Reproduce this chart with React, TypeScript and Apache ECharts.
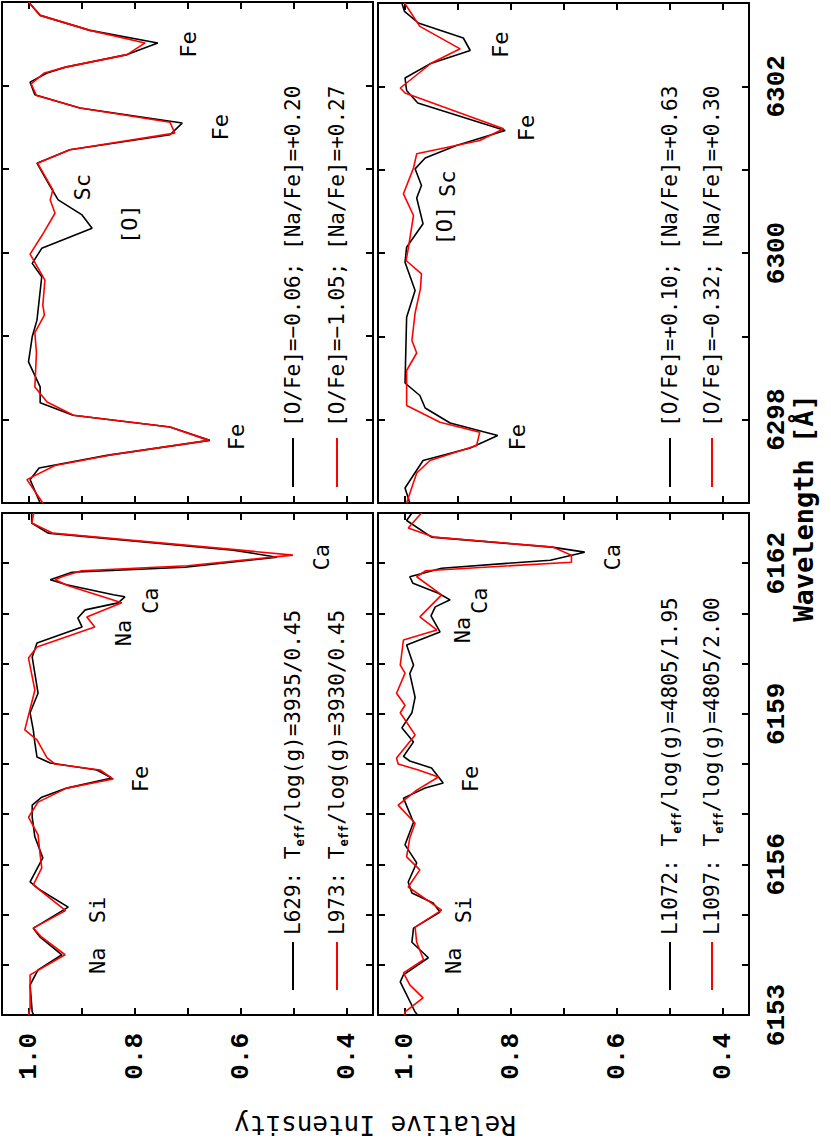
import React, { useEffect, useRef } from "react";
import * as echarts from "echarts";

// ---------------- data ----------------
// wavelength ranges (Å)
const topRange = [6297, 6303];
const botRange = [6153, 6163];
const intensityRange = [0.35, 1.05];

// [relative intensity, wavelength]
const tlBlack = [
  [1.0, 6303.0], [0.978, 6302.84], [0.884, 6302.66], [0.756, 6302.51], [0.814, 6302.37],
  [0.93, 6302.22], [0.965, 6302.15], [0.997, 6302.04], [0.988, 6301.89], [0.903, 6301.73],
  [0.71, 6301.55], [0.733, 6301.41], [0.922, 6301.23], [0.984, 6301.07], [0.96, 6300.8],
  [0.944, 6300.63], [0.899, 6300.45], [0.88, 6300.29], [0.975, 6300.05], [0.993, 6299.87],
  [0.975, 6299.71], [0.984, 6299.19], [0.993, 6298.99], [1.0, 6298.69], [0.978, 6298.39],
  [0.978, 6298.2], [0.916, 6298.05], [0.733, 6297.91], [0.658, 6297.75], [0.852, 6297.57],
  [0.98, 6297.42], [0.997, 6297.28], [0.978, 6297.0],
];
const tlRed = [
  [1.0, 6303.0], [0.978, 6302.84], [0.884, 6302.66], [0.78, 6302.51], [0.814, 6302.37],
  [0.93, 6302.22], [0.97, 6302.15], [0.995, 6302.02], [0.985, 6301.88], [0.903, 6301.73],
  [0.733, 6301.56], [0.724, 6301.43], [0.922, 6301.23], [0.983, 6301.07], [0.954, 6300.75],
  [0.959, 6300.63], [0.95, 6300.47], [0.975, 6300.2], [0.997, 6299.98], [0.969, 6299.67],
  [0.973, 6299.37], [0.97, 6299.25], [0.988, 6299.04], [0.985, 6298.8], [0.988, 6298.39],
  [0.965, 6298.21], [0.915, 6298.05], [0.733, 6297.91], [0.66, 6297.75], [0.84, 6297.58],
  [0.95, 6297.45], [1.003, 6297.28], [0.973, 6297.0],
];
const trBlack = [
  [1.005, 6303.0], [1.0, 6302.9], [0.974, 6302.76], [0.889, 6302.58], [0.876, 6302.43],
  [0.952, 6302.27], [0.999, 6302.1], [0.996, 6301.95], [0.975, 6301.8], [0.81, 6301.47],
  [0.902, 6301.29], [0.961, 6301.14], [0.98, 6301.01], [0.968, 6300.81], [0.977, 6300.66],
  [0.965, 6300.35], [0.996, 6300.07], [0.999, 6299.89], [0.98, 6299.55], [0.996, 6299.23],
  [0.999, 6298.44], [0.971, 6298.29], [0.961, 6298.14], [0.914, 6297.96], [0.824, 6297.81],
  [0.876, 6297.66], [0.965, 6297.51], [0.999, 6297.18], [0.99, 6297.0],
];
const trRed = [
  [1.0, 6303.0], [0.971, 6302.72], [0.895, 6302.45], [0.949, 6302.28], [1.008, 6301.98],
  [0.999, 6301.92], [0.813, 6301.49], [0.858, 6301.35], [0.977, 6301.19], [0.983, 6301.02],
  [1.002, 6300.71], [0.983, 6300.45], [0.993, 6300.05], [0.997, 6299.91], [0.968, 6299.75],
  [0.97, 6299.57], [0.98, 6299.28], [0.986, 6298.95], [0.977, 6298.8], [0.996, 6298.59],
  [0.996, 6298.17], [0.933, 6297.97], [0.858, 6297.85], [0.864, 6297.69], [0.952, 6297.51],
  [0.977, 6297.36], [0.996, 6297.0],
];
const blBlack = [
  [0.994, 6163.0], [0.994, 6162.8], [0.963, 6162.6], [0.614, 6162.26], [0.531, 6162.12],
  [0.705, 6161.92], [0.918, 6161.82], [0.959, 6161.67], [0.928, 6161.57], [0.84, 6161.37],
  [0.818, 6161.33], [0.831, 6161.21], [0.893, 6161.07], [0.907, 6160.91], [0.899, 6160.73],
  [0.984, 6160.41], [0.993, 6160.13], [0.982, 6159.41], [0.997, 6159.02], [0.991, 6158.68],
  [0.988, 6158.42], [0.984, 6158.14], [0.959, 6158.02], [0.871, 6157.88], [0.843, 6157.72],
  [0.928, 6157.52], [0.975, 6157.34], [0.993, 6157.18], [0.993, 6156.94], [0.988, 6156.55],
  [0.973, 6156.13], [0.997, 6155.65], [0.978, 6155.49], [0.925, 6155.15], [0.975, 6154.83],
  [0.991, 6154.73], [0.978, 6154.55], [0.937, 6154.2], [0.982, 6153.9], [0.997, 6153.6],
  [0.993, 6153.06], [0.99, 6153.0],
];
const blRed = [
  [0.99, 6163.0], [0.994, 6162.8], [0.955, 6162.6], [0.6, 6162.26], [0.501, 6162.16],
  [0.7, 6161.95], [0.9, 6161.85], [0.937, 6161.73], [0.95, 6161.67], [0.925, 6161.55],
  [0.824, 6161.21], [0.89, 6160.93], [0.875, 6160.73], [0.984, 6160.33], [1.0, 6160.11],
  [0.988, 6159.47], [1.007, 6158.68], [0.984, 6158.48], [0.965, 6158.12], [0.95, 6158.0],
  [0.865, 6157.88], [0.84, 6157.7], [0.928, 6157.52], [0.982, 6157.24], [1.0, 6156.94],
  [0.982, 6156.59], [0.978, 6156.19], [0.975, 6155.93], [0.991, 6155.59], [0.93, 6155.08],
  [0.991, 6154.73], [0.975, 6154.55], [0.931, 6154.2], [0.997, 6153.8], [0.997, 6153.14],
  [1.0, 6153.0],
];
const brBlack = [
  [0.986, 6163.0], [0.996, 6162.85], [0.949, 6162.52], [0.722, 6162.32], [0.66, 6162.22],
  [0.725, 6162.06], [0.93, 6161.9], [0.99, 6161.73], [0.984, 6161.6], [0.936, 6161.4],
  [0.914, 6161.27], [0.942, 6161.13], [0.95, 6160.95], [0.933, 6160.63], [0.996, 6160.37],
  [0.983, 6159.97], [0.99, 6159.8], [0.98, 6159.33], [0.986, 6159.02], [1.005, 6158.72],
  [0.983, 6158.44], [1.002, 6158.15], [0.99, 6158.06], [0.949, 6157.92], [0.927, 6157.62],
  [0.961, 6157.52], [1.002, 6157.32], [0.983, 6156.84], [0.999, 6156.39], [0.977, 6156.03],
  [0.993, 6155.65], [0.986, 6155.43], [0.946, 6155.23], [0.933, 6155.05], [0.983, 6154.73],
  [0.986, 6154.45], [0.955, 6154.14], [1.002, 6153.8], [1.008, 6153.66], [0.98, 6153.06],
  [0.975, 6153.0],
];
const brRed = [
  [0.968, 6163.0], [0.993, 6162.7], [0.945, 6162.52], [0.72, 6162.32], [0.685, 6162.16],
  [0.685, 6162.02], [0.96, 6161.85], [0.977, 6161.73], [0.93, 6161.37], [0.971, 6160.93],
  [0.939, 6160.67], [1.002, 6160.47], [1.008, 6159.97], [0.999, 6159.81], [1.015, 6159.41],
  [0.999, 6159.17], [1.008, 6159.02], [0.98, 6158.58], [1.015, 6158.12], [1.012, 6158.0],
  [0.974, 6157.88], [0.936, 6157.74], [0.977, 6157.48], [1.012, 6157.18], [0.98, 6156.82],
  [0.99, 6156.53], [0.996, 6156.15], [0.971, 6155.89], [0.993, 6155.55], [0.93, 6155.09],
  [0.98, 6154.75], [0.977, 6154.45], [0.964, 6154.1], [1.002, 6153.84], [0.99, 6153.6],
  [0.965, 6153.34], [0.999, 6153.06], [1.0, 6153.0],
];

// line identifications: [name, intensity, wavelength]
const tlLines = [
  ["Fe", 0.699, 6302.49], ["Fe", 0.637, 6301.5], ["Sc", 0.899, 6300.78],
  ["[O]", 0.81, 6300.34], ["Fe", 0.608, 6297.79],
];
const trLines = [
  ["Fe", 0.818, 6302.5], ["Fe", 0.769, 6301.5], ["Sc", 0.918, 6300.83],
  ["[O]", 0.924, 6300.33], ["Fe", 0.786, 6297.79],
];
const blLines = [
  ["Ca", 0.448, 6162.12], ["Ca", 0.769, 6161.25], ["Na", 0.82, 6160.61],
  ["Fe", 0.788, 6157.7], ["Si", 0.869, 6155.09], ["Na", 0.869, 6154.08],
];
const brLines = [
  ["Ca", 0.608, 6162.12], ["Ca", 0.859, 6161.25], ["Na", 0.89, 6160.67],
  ["Fe", 0.876, 6157.7], ["Si", 0.888, 6155.09], ["Na", 0.908, 6154.08],
];

// legend texts
const abundL = ["[O/Fe]=\u22120.06; [Na/Fe]=+0.20", "[O/Fe]=\u22121.05; [Na/Fe]=+0.27"];
const abundR = ["[O/Fe]=+0.10; [Na/Fe]=+0.63", "[O/Fe]=\u22120.32; [Na/Fe]=+0.30"];
const starsL = [["L629", "3935/0.45"], ["L973", "3930/0.45"]];
const starsR = [["L1072", "4805/1.95"], ["L1097", "4805/2.00"]];

const xTitle = "Relative Intensity";
const yTitle = "Wavelength [\u00c5]";

// ---------------- layout / style ----------------
const GRIDS = [
  { left: 2, top: 2, width: 371, height: 501 },
  { left: 378, top: 2, width: 371, height: 501 },
  { left: 2, top: 513, width: 371, height: 502 },
  { left: 378, top: 513, width: 371, height: 502 },
];
const TICK_FONT = "'Liberation Mono', monospace";
const TEXT_FONT = "'DejaVu Sans Mono', monospace";
const BLACK = "#000000";
const RED = "#ff0000";

function fmtIntensity(v: number) {
  const k = Math.round(v * 10);
  if (Math.abs(v * 10 - k) > 1e-6) return "";
  return k % 2 === 0 ? (k / 10).toFixed(1) : "";
}

function buildOption() {
  const panels = [
    { black: tlBlack, red: tlRed, lines: tlLines, range: topRange, showX: false, showY: false },
    { black: trBlack, red: trRed, lines: trLines, range: topRange, showX: false, showY: true },
    { black: blBlack, red: blRed, lines: blLines, range: botRange, showX: true, showY: false },
    { black: brBlack, red: brRed, lines: brLines, range: botRange, showX: true, showY: true },
  ];
  const axisLine = { show: true, onZero: false, lineStyle: { color: BLACK, width: 2 } };
  const axisTick = { show: true, inside: true, length: 7, lineStyle: { color: BLACK, width: 2 } };
  const xAxis: any[] = [];
  const yAxis: any[] = [];
  const series: any[] = [];
  panels.forEach((p, i) => {
    const isTop = p.range === topRange;
    const yFmt = (v: number) => {
      const r = Math.round(v);
      if (Math.abs(v - r) > 1e-6) return "";
      if (isTop) return r % 2 === 0 ? String(r) : "";
      return (r - botRange[0]) % 3 === 0 ? String(r) : "";
    };
    const xBase = {
      gridIndex: i, type: "value", min: intensityRange[0], max: intensityRange[1],
      splitNumber: 7, minInterval: 0.1, maxInterval: 0.1, inverse: true,
      axisLine, axisTick, splitLine: { show: false },
    };
    xAxis.push({
      ...xBase, position: "bottom",
      axisLabel: {
        show: p.showX, rotate: 90, margin: 18, color: BLACK, fontFamily: TICK_FONT,
        fontWeight: "bold", fontSize: 26, formatter: fmtIntensity,
        showMinLabel: false, showMaxLabel: false,
      },
    });
    xAxis.push({ ...xBase, position: "top", axisLabel: { show: false } });
    const yBase = {
      gridIndex: i, type: "value", min: p.range[0], max: p.range[1], interval: 1,
      axisLine, axisTick, splitLine: { show: false },
    };
    yAxis.push({
      ...yBase, position: "right",
      axisLabel: {
        show: p.showY, rotate: 90, margin: 15, color: BLACK, fontFamily: TICK_FONT,
        fontWeight: "bold", fontSize: 26, formatter: yFmt,
      },
    });
    yAxis.push({ ...yBase, position: "left", axisLabel: { show: false } });

    series.push({
      type: "line", xAxisIndex: 2 * i, yAxisIndex: 2 * i, data: p.black,
      showSymbol: false, symbol: "none", lineStyle: { color: BLACK, width: 1.6 },
      itemStyle: { color: BLACK }, z: 2,
    });
    series.push({
      type: "line", xAxisIndex: 2 * i, yAxisIndex: 2 * i, data: p.red,
      showSymbol: false, symbol: "none", lineStyle: { color: RED, width: 1.6 },
      itemStyle: { color: RED }, z: 3,
    });
    series.push({
      type: "scatter", xAxisIndex: 2 * i, yAxisIndex: 2 * i, silent: true,
      symbol: "circle", symbolSize: 0.1, itemStyle: { color: BLACK, opacity: 1 },
      data: p.lines.map((l) => ({ name: l[0], value: [l[1], l[2]] })),
      label: {
        show: true, position: "inside", rotate: 90, formatter: "{b}", opacity: 1,
        color: BLACK, fontFamily: TEXT_FONT, fontSize: 22, textBorderWidth: 0,
      },
      emphasis: { disabled: true },
      z: 5,
    });
  });

  // legends
  const graphic: any[] = [];
  const colX = [[293, 337], [670, 712]];
  const rowCfg = [
    { lineY: [438, 487], textY: 427 },
    { lineY: [942, 990], textY: 935 },
  ];
  const colors = [BLACK, RED];
  [0, 1].forEach((row) => {
    [0, 1].forEach((col) => {
      [0, 1].forEach((k) => {
        const x = colX[col][k];
        const rc = rowCfg[row];
        graphic.push({
          type: "line", silent: true,
          shape: { x1: x, y1: rc.lineY[0], x2: x, y2: rc.lineY[1] },
          style: { stroke: colors[k], lineWidth: 2 },
        });
        let text: string;
        if (row === 0) {
          text = (col === 0 ? abundL : abundR)[k];
        } else {
          const s = (col === 0 ? starsL : starsR)[k];
          text = `{a|${s[0]}: T}{s|eff}{a|/log(g)=${s[1]}}`;
        }
        graphic.push({
          type: "text", silent: true, x, y: rc.textY, rotation: Math.PI / 2,
          style: {
            text, fill: BLACK, fontFamily: TEXT_FONT, fontSize: 21,
            textAlign: "left", textVerticalAlign: "middle", verticalAlign: "middle",
            rich: {
              a: { fontFamily: TEXT_FONT, fontSize: 21, lineHeight: 26, fill: BLACK },
              s: { fontFamily: TEXT_FONT, fontSize: 12, fontWeight: "bold", lineHeight: 12,
                   verticalAlign: "bottom", fill: BLACK },
            },
          },
        });
      });
    });
  });
  graphic.push({
    type: "text", silent: true, x: 803, y: 508, rotation: Math.PI / 2,
    style: {
      text: yTitle, fill: BLACK, fontFamily: TEXT_FONT, fontWeight: "bold", fontSize: 27,
      textAlign: "center", textVerticalAlign: "middle", verticalAlign: "middle",
    },
  });
  graphic.push({
    type: "text", silent: true, x: 375, y: 1125, rotation: Math.PI,
    style: {
      text: xTitle, fill: BLACK, fontFamily: TEXT_FONT, fontSize: 26,
      textAlign: "center", textVerticalAlign: "middle", verticalAlign: "middle",
    },
  });

  return {
    animation: false,
    backgroundColor: "#ffffff",
    grid: GRIDS.map((g) => ({ ...g, containLabel: false })),
    xAxis, yAxis, series, graphic,
  };
}

export default function App() {
  const ref = useRef<HTMLDivElement>(null);
  useEffect(() => {
    if (!ref.current) return;
    const chart = echarts.init(ref.current, null, { renderer: "svg" });
    chart.setOption(buildOption() as any);
    return () => chart.dispose();
  }, []);
  return (
    <div
      ref={ref}
      style={{ position: "fixed", left: 0, top: 0, width: 831, height: 1142, background: "#fff" }}
    />
  );
}
